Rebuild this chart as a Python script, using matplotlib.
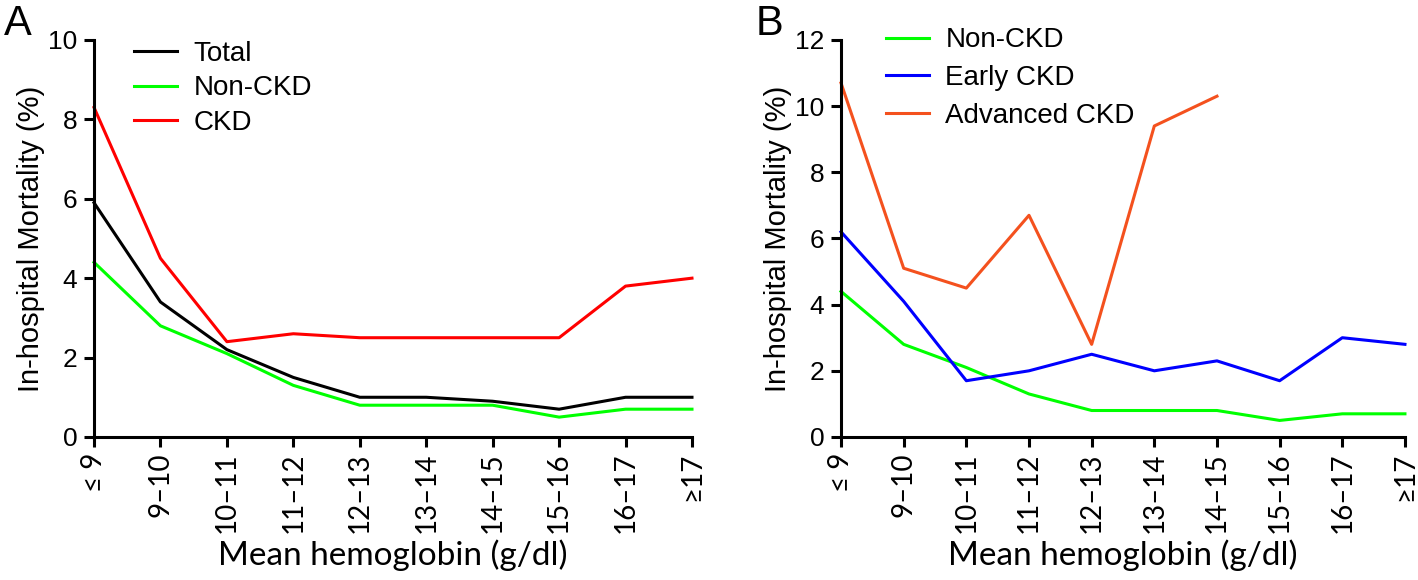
import numpy as np
import matplotlib
matplotlib.use('Agg')
from matplotlib import pyplot as plt

plt.rcParams['font.family'] = ['Liberation Sans', 'DejaVu Sans']

hb_groups = ['\u2264 9', '9\u201310', '10\u201311', '11\u201312', '12\u201313',
             '13\u201314', '14\u201315', '15\u201316', '16\u201317', '\u226517']

# panel A
total = [5.9, 3.4, 2.2, 1.5, 1.0, 1.0, 0.9, 0.7, 1.0, 1.0]
non_ckd = [4.4, 2.8, 2.1, 1.3, 0.8, 0.8, 0.8, 0.5, 0.7, 0.7]
ckd = [8.3, 4.5, 2.4, 2.6, 2.5, 2.5, 2.5, 2.5, 3.8, 4.0]

# panel B
early_ckd = [6.2, 4.1, 1.7, 2.0, 2.5, 2.0, 2.3, 1.7, 3.0, 2.8]
advanced_ckd = [10.7, 5.1, 4.5, 6.7, 2.8, 9.4, 10.3, None, None, None]

fig = plt.figure(figsize=(14.18, 5.8), dpi=100)
axA = fig.add_axes([0.0663, 0.2466, 0.4217, 0.6845])
axB = fig.add_axes([0.5931, 0.2466, 0.3977, 0.6845])

x = np.arange(len(hb_groups))
lw = 2.2
calibri_like = ['Lato', 'DejaVu Sans']


def style(ax, ymax):
    ax.set_xlim(0, len(hb_groups) - 1)
    ax.set_ylim(0, ymax)
    ax.set_yticks(np.arange(0, ymax + 1, 2))
    ax.tick_params(axis='both', width=2.2, length=7, direction='out')
    ax.tick_params(axis='y', labelsize=19, pad=5)
    ax.tick_params(axis='x', pad=4)
    ax.set_xticks(x)
    ax.set_xticklabels(hb_groups, rotation=90, fontsize=20, family=calibri_like)
    for s in ['top', 'right']:
        ax.spines[s].set_visible(False)
    for s in ['left', 'bottom']:
        ax.spines[s].set_linewidth(2.2)
    ax.set_ylabel('In-hospital Mortality (%)', fontsize=21, labelpad=2)
    ax.set_xlabel('Mean hemoglobin (g/dl)', fontsize=24, family=calibri_like, labelpad=5)


axA.plot(x, total, color='black', lw=lw, label='Total', clip_on=False)
axA.plot(x, non_ckd, color='#00ff00', lw=lw, label='Non-CKD', clip_on=False)
axA.plot(x, ckd, color='#ff0000', lw=lw, label='CKD', clip_on=False)
style(axA, 10)
axA.legend(loc='upper left', bbox_to_anchor=(0.025, 1.06), frameon=False,
           fontsize=20, handlelength=1.55, handletextpad=0.6, labelspacing=0.3)

adv = np.array([np.nan if v is None else v for v in advanced_ckd])
axB.plot(x, non_ckd, color='#00ff00', lw=lw, label='Non-CKD', clip_on=False)
axB.plot(x, early_ckd, color='#0000ff', lw=lw, label='Early CKD', clip_on=False)
axB.plot(x, adv, color='#f4511e', lw=lw, label='Advanced CKD', clip_on=False)
style(axB, 12)
axB.legend(loc='upper left', bbox_to_anchor=(0.035, 1.095), frameon=False,
           fontsize=20, handlelength=1.55, handletextpad=0.6, labelspacing=0.42)

fig.text(0.003, 0.94, 'A', fontsize=30)
fig.text(0.533, 0.94, 'B', fontsize=30)

fig.savefig('out.png', dpi=100)
